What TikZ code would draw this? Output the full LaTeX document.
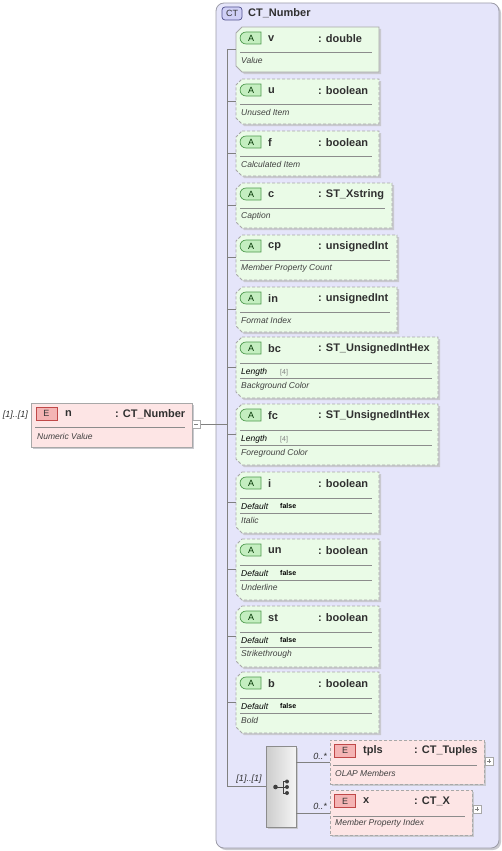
\documentclass[tikz,border=0pt]{standalone}
\usepackage{fontspec}
\setmainfont{Liberation Sans}
\usetikzlibrary{shapes.misc,shadows}
\definecolor{ctfill}{HTML}{E5E5FA}
\definecolor{ctborder}{HTML}{9C9CA8}
\definecolor{attfill}{HTML}{EAFBE7}
\definecolor{attborder}{HTML}{A8A8A8}
\definecolor{elfill}{HTML}{FDE5E5}
\definecolor{abadge}{HTML}{C4EEC0}
\definecolor{aborder}{HTML}{4E9A4E}
\definecolor{ebadge}{HTML}{F4B4B4}
\definecolor{eborder}{HTML}{C04848}
\definecolor{ctbadge}{HTML}{D0D0F6}
\definecolor{ctbborder}{HTML}{50508E}
\definecolor{shadowc}{HTML}{C9C9CF}
\definecolor{txt}{HTML}{303030}
\definecolor{txt2}{HTML}{404040}
\definecolor{sepc}{HTML}{8C8C8C}
\definecolor{conc}{HTML}{808080}
\tikzset{
  hdr/.style={font=\fontsize{11}{13}\selectfont\bfseries, text=txt, anchor=west, inner sep=0},
  desc/.style={font=\fontsize{8.5}{10}\selectfont\itshape, text=txt2, anchor=west, inner sep=0},
  facet/.style={font=\fontsize{8.5}{10}\selectfont\itshape, text=black, anchor=base west, inner sep=0},
  facetv/.style={font=\fontsize{7}{8}\selectfont, text=gray, anchor=base west, inner sep=0},
  facetb/.style={font=\fontsize{7}{8}\selectfont\bfseries, text=black, anchor=base west, inner sep=0},
  occ/.style={font=\fontsize{9}{10}\selectfont\itshape, text=txt, inner sep=0},
  sepline/.style={draw=sepc, line width=0.6pt},
  conn/.style={draw=conc, line width=0.6pt},
  attbox/.style={fill=attfill, draw=attborder, line width=0.8pt},
  optional/.style={dash pattern=on 3pt off 2pt},
  required/.style={solid},
  badgeA/.style={rounded rectangle, rounded rectangle right arc=none, draw=aborder, fill=abadge,
    minimum width=21pt, minimum height=12pt, inner sep=0, line width=0.7pt,
    font=\fontsize{9}{10}\selectfont, text=black!80!green},
  badgeE/.style={rectangle, draw=eborder, fill=ebadge, minimum width=21pt, minimum height=13pt,
    inner sep=0, line width=0.7pt, font=\fontsize{9}{10}\selectfont, text=black!80},
  badgeCT/.style={rectangle, rounded corners=3pt, draw=ctbborder, fill=ctbadge, minimum width=20pt,
    minimum height=13pt, inner sep=0, line width=0.7pt, font=\fontsize{9}{10}\selectfont, text=black!80},
  elbox/.style={rectangle, fill=elfill, draw=attborder, line width=0.8pt, inner sep=0},
  pmbox/.style={rectangle, draw=attborder, fill=white, minimum width=8pt, minimum height=8pt, inner sep=0, line width=0.6pt},
}
% attribute box: #1 name, #2 y0, #3 y1, #4 x1, #5 border style, #6 label, #7 type
\newcommand{\attr}[7]{%
  \fill[shadowc] (244,{#2+2}) -- ({#4+2},{#2+2}) -- ({#4+2},{#3+2}) -- (244,{#3+2}) -- (238,{#3-4}) -- (238,{#2+8}) -- cycle;
  \draw[attbox,#5] (242,#2) -- (#4,#2) -- (#4,#3) -- (242,#3) -- (236,{#3-6}) -- (236,{#2+6}) -- cycle;
  \node[inner sep=0, minimum width={#4-236}, minimum height={#3-#2}, anchor=north west] (#1) at (236,#2) {};
  \node[badgeA] (#1badge) at (251,{#2+11}) {A};
  \node[hdr] (#1name) at (268,{#2+11.5}) {#6};
  \node[hdr] (#1type) at (318,{#2+11.5}) {#7};
}
\begin{document}
\begin{tikzpicture}[x=1pt,y=-1pt]
\useasboundingbox (0,0) rectangle (502,851);
% complex type container
\fill[shadowc, rounded corners=8pt] (218,5) rectangle (501,850);
\draw[fill=ctfill, draw=ctborder, line width=0.8pt, rounded corners=8pt] (216,3) rectangle (499,848);
\node[badgeCT] (ctb) at (232,13.5) {CT};
\node[hdr] (ctname) at (248,13.5) {CT\_Number};

% spine
\coordinate (spT) at (227,49.5);
\coordinate (spB) at (227,786.5);

% attributes
\attr{v}{27}{72}{379}{required}{v}{: double}
\draw[sepline] (240,52) -- (372,52);
\node[desc] at (241,60) {Value};

\attr{u}{79}{124}{379}{optional}{u}{: boolean}
\draw[sepline] (240,104) -- (372,104);
\node[desc] at (241,112) {Unused Item};

\attr{f}{131}{176}{379}{optional}{f}{: boolean}
\draw[sepline] (240,156) -- (372,156);
\node[desc] at (241,164) {Calculated Item};

\attr{c}{183}{228}{392}{optional}{c}{: ST\_Xstring}
\draw[sepline] (240,208) -- (385,208);
\node[desc] at (241,216) {Caption};

\attr{cp}{235}{280}{397}{optional}{cp}{: unsignedInt}
\draw[sepline] (240,260) -- (390,260);
\node[desc] at (241,268) {Member Property Count};

\attr{in}{287}{332}{397}{optional}{in}{: unsignedInt}
\draw[sepline] (240,312) -- (390,312);
\node[desc] at (241,320) {Format Index};

\attr{bc}{337}{398}{438}{optional}{bc}{: ST\_UnsignedIntHex}
\draw[sepline] (240,363) -- (432,363);
\node[facet] at (241,374) {Length};
\node[facetv] at (280,374) {[4]};
\draw[sepline] (240,378) -- (432,378);
\node[desc] at (241,386) {Background Color};

\attr{fc}{404}{465}{438}{optional}{fc}{: ST\_UnsignedIntHex}
\draw[sepline] (240,430) -- (432,430);
\node[facet] at (241,441) {Length};
\node[facetv] at (280,441) {[4]};
\draw[sepline] (240,445) -- (432,445);
\node[desc] at (241,453) {Foreground Color};

\attr{i}{472}{533}{379}{optional}{i}{: boolean}
\draw[sepline] (240,498) -- (372,498);
\node[facet] at (241,509) {Default};
\node[facetb] at (280,508.5) {false};
\draw[sepline] (240,513) -- (372,513);
\node[desc] at (241,520) {Italic};

\attr{un}{539}{600}{379}{optional}{un}{: boolean}
\draw[sepline] (240,565) -- (372,565);
\node[facet] at (241,576) {Default};
\node[facetb] at (280,575.5) {false};
\draw[sepline] (240,580) -- (372,580);
\node[desc] at (241,587) {Underline};

\attr{st}{606}{667}{379}{optional}{st}{: boolean}
\draw[sepline] (240,632) -- (372,632);
\node[facet] at (241,643) {Default};
\node[facetb] at (280,642.5) {false};
\draw[sepline] (240,647) -- (372,647);
\node[desc] at (241,654) {Strikethrough};

\attr{b}{672}{733}{379}{optional}{b}{: boolean}
\draw[sepline] (240,698) -- (372,698);
\node[facet] at (241,709) {Default};
\node[facetb] at (280,708.5) {false};
\draw[sepline] (240,713) -- (372,713);
\node[desc] at (241,720) {Bold};

% spine connectors
\draw[conn] (spT) -- (spB);
\foreach \a in {v,u,f,c,cp,in,bc,fc,i,un,st,b}{
  \draw[conn] (spT |- \a.west) -- (\a.west);
}

% element n
\fill[shadowc] (33,405) rectangle (194,449);
\node[elbox, minimum width=161pt, minimum height=44pt, anchor=north west] (n) at (31,403) {};
\node[badgeE] (nbadge) at (46.5,413.5) {E};
\node[hdr] (nname) at (65,414) {n};
\node[hdr] (ntype) at (115,414) {: CT\_Number};
\draw[sepline] (35,427) -- (185,427);
\node[desc] at (37,436) {Numeric Value};
\node[occ, anchor=east] (nocc) at (28,415) {[1]..[1]};
\node[pmbox, anchor=west] (nminus) at (192,424) {};
\draw[conc, line width=0.6pt] ([xshift=-2pt]nminus.center) -- ([xshift=2pt]nminus.center);
\draw[conn] (nminus.east) -- (nminus.east -| spT);

% sequence compositor
\fill[shadowc] (268,748) rectangle (298,829);
\node[rectangle, left color=black!20, right color=black!4, draw=black!45, line width=0.7pt,
  minimum width=30pt, minimum height=81pt, inner sep=0] (seq) at (281,786.5) {};
\draw[conn] (spB) -- (seq.west);
\node[occ, anchor=south] (seqocc) at (249,784) {[1]..[1]};
% sequence icon
\coordinate (sq0) at (275.5,787);
\draw[black!75, line width=1pt] (sq0) -- (283,787) (283,781.5) -- (283,793) (283,781.5) -- (287,781.5) (283,787) -- (287,787) (283,793) -- (287,793);
\fill[black!75] (sq0) circle (2.3pt) (287,781.5) circle (2pt) (287,787) circle (2pt) (287,793) circle (2pt);

% element tpls
\fill[shadowc] (332,742) rectangle (486,786);
\node[elbox, optional, minimum width=154pt, minimum height=44pt, anchor=north west] (tpls) at (330,740) {};
\node[badgeE] (tbadge) at (345,750.5) {E};
\node[hdr] (tname) at (363,751) {tpls};
\node[hdr] (ttype) at (414,751) {: CT\_Tuples};
\draw[sepline] (333,765) -- (477,765);
\node[desc] at (335,773) {OLAP Members};
\node[pmbox, anchor=west] (tplus) at (484.5,761) {};
\draw[conc, line width=0.6pt] ([xshift=-2pt]tplus.center) -- ([xshift=2pt]tplus.center) ([yshift=-2pt]tplus.center) -- ([yshift=2pt]tplus.center);
\draw[conn] (seq.east |- tpls.west) -- (tpls.west);
\node[occ, anchor=south east] (tocc) at (327,760) {0..*};

% element x
\fill[shadowc] (332,792) rectangle (474,837);
\node[elbox, optional, minimum width=142pt, minimum height=45pt, anchor=north west] (x) at (330,790) {};
\node[badgeE] (xbadge) at (345,801) {E};
\node[hdr] (xname) at (363,801) {x};
\node[hdr] (xtype) at (414,801) {: CT\_X};
\draw[sepline] (333,816) -- (465,816);
\node[desc] at (335,823) {Member Property Index};
\node[pmbox, anchor=west] (xplus) at (472.5,809) {};
\draw[conc, line width=0.6pt] ([xshift=-2pt]xplus.center) -- ([xshift=2pt]xplus.center) ([yshift=-2pt]xplus.center) -- ([yshift=2pt]xplus.center);
\draw[conn] (seq.east |- x.west) -- (x.west);
\node[occ, anchor=south east] (xocc) at (327,810) {0..*};
\end{tikzpicture}
\end{document}
